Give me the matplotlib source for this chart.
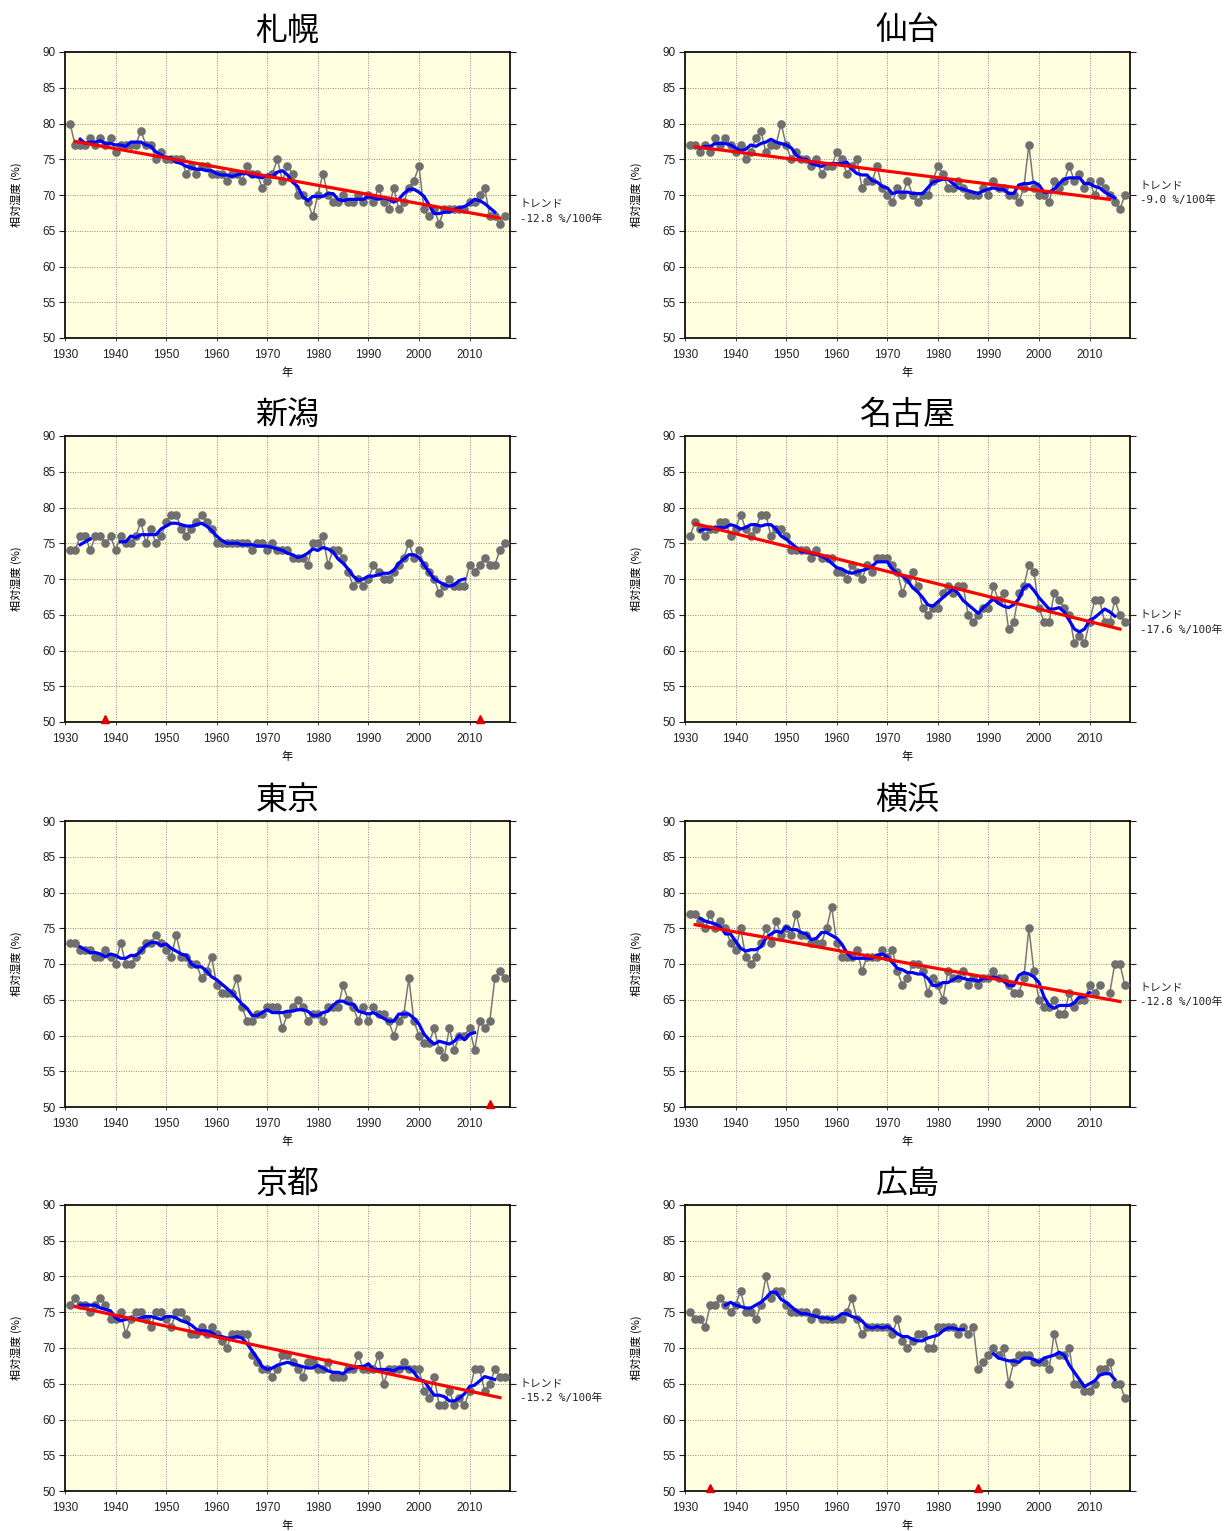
import numpy as np
import pandas as pd
import matplotlib
matplotlib.use('Agg')
import matplotlib.pyplot as plt
import matplotlib.transforms as mtransforms

plt.rcParams['font.family'] = ['Liberation Sans', 'Noto Sans CJK JP', 'DejaVu Sans']

years = list(range(1931, 2018))
stations = ['札幌', '仙台', '新潟', '名古屋', '東京', '横浜', '京都', '広島']

sapporo = [80, 77, 77, 77, 78, 77, 78, 77, 78, 76,
           77, 77, 77, 77, 79, 77, 77, 75, 76, 75,
           75, 75, 75, 73, 74, 73, 74, 74, 73, 73,
           73, 72, 73, 73, 72, 74, 73, 73, 71, 72,
           73, 75, 72, 74, 73, 70, 70, 69, 67, 70,
           73, 70, 69, 69, 70, 69, 69, 70, 69, 70,
           69, 71, 69, 68, 71, 68, 69, 71, 72, 74,
           68, 67, 68, 66, 68, 68, 68, 68, 68, 69,
           69, 70, 71, 67, 67, 66, 67]
sendai = [77, 77, 76, 77, 76, 78, 77, 78, 77, 76,
          77, 75, 76, 78, 79, 76, 77, 77, 80, 77,
          75, 76, 75, 75, 74, 75, 73, 74, 74, 76,
          75, 73, 74, 75, 71, 72, 72, 74, 71, 70,
          69, 71, 70, 72, 70, 69, 70, 70, 72, 74,
          73, 71, 71, 72, 71, 70, 70, 70, 71, 70,
          72, 71, 71, 70, 70, 69, 71, 77, 71, 70,
          70, 69, 72, 71, 72, 74, 72, 73, 71, 72,
          70, 72, 71, 70, 69, 68, 70]
niigata = [74, 74, 76, 76, 74, 76, 76, 75, 76, 74,
           76, 75, 75, 76, 78, 75, 77, 75, 76, 78,
           79, 79, 77, 76, 77, 78, 79, 78, 77, 75,
           75, 75, 75, 75, 75, 75, 74, 75, 75, 74,
           75, 74, 74, 74, 73, 73, 73, 72, 75, 75,
           76, 72, 74, 74, 73, 71, 69, 70, 69, 70,
           72, 71, 70, 70, 71, 72, 73, 75, 73, 74,
           72, 71, 70, 68, 69, 70, 69, 69, 69, 72,
           71, 72, 73, 72, 72, 74, 75]
nagoya = [76, 78, 77, 76, 77, 77, 78, 78, 76, 77,
          79, 77, 76, 77, 79, 79, 76, 77, 77, 76,
          74, 74, 74, 74, 73, 74, 73, 73, 73, 71,
          71, 70, 72, 71, 70, 72, 71, 73, 73, 73,
          72, 71, 68, 70, 71, 69, 66, 65, 66, 66,
          68, 69, 68, 69, 69, 65, 64, 65, 66, 66,
          69, 67, 68, 63, 64, 68, 69, 72, 71, 66,
          64, 64, 68, 67, 66, 65, 61, 62, 61, 64,
          67, 67, 64, 64, 67, 65, 64]
tokyo = [73, 73, 72, 72, 72, 71, 71, 72, 71, 70,
         73, 70, 70, 71, 72, 73, 73, 74, 73, 72,
         71, 74, 71, 71, 70, 70, 68, 69, 71, 67,
         66, 66, 66, 68, 64, 62, 62, 63, 63, 64,
         64, 64, 61, 63, 64, 65, 64, 62, 63, 63,
         62, 64, 64, 64, 67, 65, 64, 62, 64, 62,
         64, 63, 63, 62, 60, 62, 63, 68, 62, 60,
         59, 59, 61, 58, 57, 61, 58, 60, 60, 61,
         58, 62, 61, 62, 68, 69, 68]
yokohama = [77, 77, 76, 75, 77, 75, 76, 75, 73, 72,
            75, 71, 70, 71, 73, 75, 73, 76, 74, 75,
            74, 77, 74, 74, 73, 73, 73, 75, 78, 73,
            71, 71, 71, 72, 69, 71, 71, 71, 72, 71,
            72, 69, 67, 68, 70, 70, 69, 66, 68, 67,
            65, 69, 68, 68, 69, 67, 68, 67, 68, 68,
            69, 68, 68, 67, 66, 66, 68, 75, 69, 65,
            64, 64, 65, 63, 63, 66, 64, 65, 65, 67,
            66, 67, np.nan, 66, 70, 70, 67]
kyoto = [76, 77, 76, 76, 75, 76, 77, 76, 74, 74,
         75, 72, 74, 75, 75, 74, 73, 75, 75, 74,
         73, 75, 75, 74, 72, 72, 73, 72, 73, 72,
         71, 70, 72, 72, 72, 72, 69, 68, 67, 67,
         66, 67, 69, 69, 68, 67, 66, 68, 68, 67,
         67, 68, 66, 66, 66, 67, 67, 69, 67, 67,
         67, 69, 65, 67, 67, 67, 68, 67, 67, 67,
         64, 63, 66, 62, 62, 64, 62, 63, 62, 64,
         67, 67, 64, 65, 67, 66, 66]
hiroshima = [75, 74, 74, 73, 76, 76, 77, 76, 75, 76,
             78, 75, 75, 74, 76, 80, 77, 78, 78, 76,
             75, 75, 75, 75, 74, 75, 74, 74, 74, 74,
             74, 75, 77, 74, 72, 73, 73, 73, 73, 73,
             72, 74, 71, 70, 71, 72, 72, 70, 70, 73,
             73, 73, 73, 72, 73, 72, 73, 67, 68, 69,
             70, 69, 70, 65, 68, 69, 69, 69, 68, 68,
             68, 67, 72, 69, 69, 70, 65, 65, 64, 64,
             65, 67, 67, 68, 65, 65, 63]

series = [sapporo, sendai, niigata, nagoya, tokyo, yokohama, kyoto, hiroshima]

# station relocation years (red triangles; running mean broken there)
relocations = {'新潟': [1938, 2012], '東京': [2014], '広島': [1935, 1988]}
# trend lines (stations without relocation)
trend_labels = {'札幌': '-12.8', '仙台': '-9.0', '名古屋': '-17.6',
                '横浜': '-12.8', '京都': '-15.2'}
trend_start = {'札幌': 1932, '仙台': 1932, '名古屋': 1932, '横浜': 1932, '京都': 1932}
trend_end = {'札幌': 2016, '仙台': 2014, '名古屋': 2016, '横浜': 2016, '京都': 2016}

yticks = list(range(50, 95, 5))
xticks = list(range(1930, 2020, 10))

W, H = 1230, 1531
fig = plt.figure(figsize=(W / 100, H / 100), dpi=100)
tops = [52, 436, 821, 1205]
lefts = [65, 685]
aw, ah = 445, 286

cjk = ['Noto Sans CJK JP', 'DejaVu Sans']
mono = ['DejaVu Sans Mono', 'Noto Sans CJK JP']

for i, (name, vals) in enumerate(zip(stations, series)):
    r, c = divmod(i, 2)
    ax = fig.add_axes([lefts[c] / W, 1 - (tops[r] + ah) / H, aw / W, ah / H])
    ax.set_facecolor('#ffffe0')
    ax.set_xlim(1930, 2018)
    ax.set_ylim(50, 90)
    ax.set_xticks(xticks)
    ax.set_yticks(yticks)
    ax.grid(True, ls=(0, (1, 1.5)), color='#8a8a8a', lw=0.7)
    ax.set_axisbelow(True)
    for s in ax.spines.values():
        s.set_linewidth(1.3)
        s.set_color('#111111')
    ax.tick_params(axis='y', which='both', left=True, right=True, direction='out',
                   length=4, width=0.8, pad=3, labelsize=8.5, colors='#222222')
    ax.tick_params(axis='x', direction='out', length=2, width=0.6, pad=6,
                   labelsize=8.5, colors='#222222')

    s = pd.Series(vals, index=years, dtype=float)
    ax.plot(s.index, s.values, '-', color='#777777', lw=1.1, zorder=3)
    ax.plot(s.index, s.values, 'o', color='#6f6f6f', ms=5.2, mec='#6f6f6f', zorder=3)

    # 5-year running mean, not crossing relocation years
    sm = s.copy()
    for yr in relocations.get(name, []):
        sm[yr] = np.nan
    rm = sm.rolling(5, center=True, min_periods=5).mean()
    ax.plot(rm.index, rm.values, '-', color='#0000ff', lw=2.3, zorder=4)

    if name in trend_labels:
        ok = s.notna()
        coef = np.polyfit(np.array(s.index[ok], dtype=float), s.values[ok], 1)
        tx = np.array([trend_start[name], trend_end[name]], dtype=float)
        ty = np.polyval(coef, tx)
        ax.plot(tx, ty, '-', color='#ff0000', lw=2.3, zorder=5)
        trans = mtransforms.blended_transform_factory(ax.transAxes, ax.transData)
        ax.text(1.022, ty[-1] + 1.9, 'トレンド', transform=trans, ha='left', va='center',
                fontsize=7.8, family=mono, color='#222222')
        ax.text(1.022, ty[-1] - 0.1, f'{trend_labels[name]} %/100年', transform=trans,
                ha='left', va='center', fontsize=7.8, family=mono, color='#222222')

    if name in relocations:
        ry = relocations[name]
        off = mtransforms.offset_copy(ax.transData, fig=fig, x=0, y=3.5, units='dots')
        ax.plot(ry, [50] * len(ry), '^', color='#e00000', ms=6, transform=off,
                clip_on=False, zorder=6)

    ax.set_title(name, fontsize=23, pad=9, family=cjk)
    ax.set_ylabel('相対湿度 (%)', fontsize=8, family=cjk)
    ax.yaxis.set_label_coords(-0.097, 0.5)
    ax.set_xlabel('年', fontsize=8, family=cjk)
    ax.xaxis.set_label_coords(0.5, -0.105)

fig.savefig('out.png', dpi=100, facecolor='white')
